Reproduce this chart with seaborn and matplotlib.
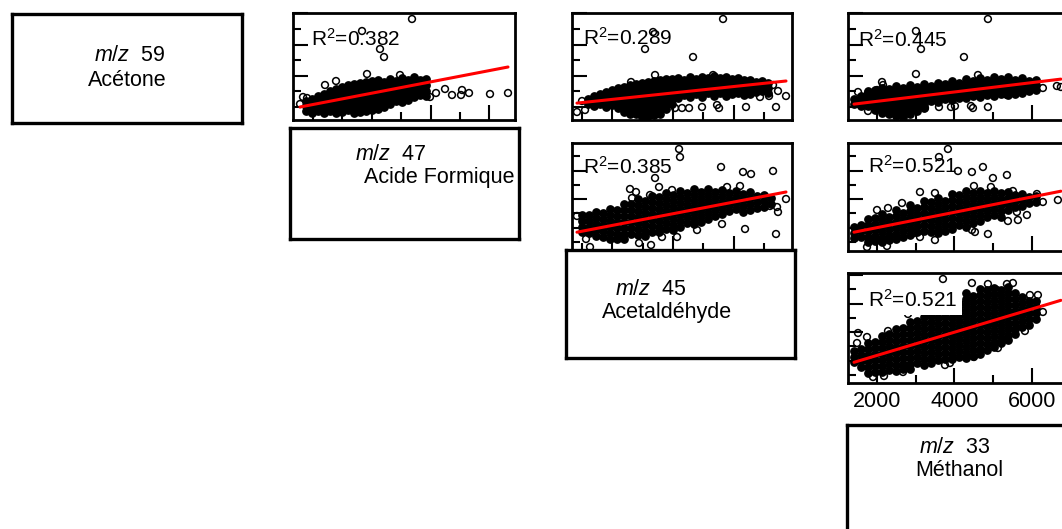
import numpy as np
import pandas as pd
import seaborn as sns
import matplotlib.pyplot as plt
from matplotlib.ticker import MultipleLocator

sns.set_style("white")
plt.rcParams['font.family'] = ['Liberation Sans', 'DejaVu Sans']
plt.rcParams['mathtext.fontset'] = 'custom'
plt.rcParams['mathtext.rm'] = 'Liberation Sans'
plt.rcParams['mathtext.it'] = 'Liberation Sans:italic'
plt.rcParams['text.color'] = 'black'
plt.rcParams['xtick.color'] = 'black'
plt.rcParams['ytick.color'] = 'black'

# diagonal labels
mz_values = ['59', '47', '45', '33']
compounds = ['Acétone', 'Acide Formique', 'Acetaldéhyde', 'Méthanol']

# R² and fitted lines, panels (row, col): (1,2) (1,3) (1,4) (2,3) (2,4) (3,4)
r2_values = [0.382, 0.289, 0.445, 0.385, 0.521, 0.521]
slopes = [0.362, 0.2051, 0.1496, 0.408, 0.2683, 0.4057]
intercepts = [718, 1039, 882, 673, 466, 374]

# acetone (y) vs formic acid (x): dense core by x column, then scattered points
acetone_formic_core = {
    881: [1192, 1032, 872], 983: [1256, 1096, 936, 808],
    1085: [1352, 1192, 1032, 872], 1187: [1416, 1256, 1096, 936, 808],
    1289: [1512, 1352, 1192, 1032, 872], 1391: [1576, 1416, 1256, 1096, 936, 808],
    1493: [1640, 1480, 1320, 1160, 1000, 840], 1595: [1704, 1544, 1384, 1224, 1064, 904],
    1697: [1736, 1576, 1416, 1256, 1096, 936, 808], 1799: [1768, 1608, 1448, 1288, 1128, 968, 840],
    1901: [1800, 1640, 1480, 1320, 1160, 1000, 872], 2003: [1832, 1672, 1512, 1352, 1192, 1032, 904],
    2105: [1864, 1704, 1544, 1384, 1224, 1064, 936], 2207: [1800, 1640, 1480, 1320, 1160, 1000],
    2309: [1896, 1736, 1576, 1416, 1256, 1096], 2411: [1832, 1672, 1512, 1352, 1192],
    2513: [1928, 1768, 1608, 1448, 1288, 1160], 2615: [1864, 1704, 1544, 1384, 1224],
    2717: [1960, 1800, 1640, 1480, 1320], 2819: [1864, 1704, 1544, 1384],
    2921: [1896, 1704, 1512, 1352],
}
acetone_formic_x = [2683, 1833, 2139, 2207, 1918, 1391, 1204, 830, 898, 779, 3244, 3363,
                    3516, 3533, 3652, 4009, 4315, 2989, 2870, 2887, 2479, 3091]
acetone_formic_y = [3816, 3432, 2856, 2600, 2056, 1832, 1704, 1320, 1288, 1096, 1576, 1384,
                    1384, 1544, 1448, 1416, 1448, 1320, 1832, 1480, 2024, 1448]

# acetone (y) vs acetaldehyde (x)
acetone_acetald_core = {
    599: [1256, 1096], 698: [1352, 1192, 1032], 797: [1416, 1256, 1096],
    896: [1480, 1320, 1160, 1000], 995: [1544, 1384, 1224, 1064],
    1094: [1608, 1448, 1288, 1128, 968], 1193: [1640, 1480, 1320, 1160, 1000, 840],
    1292: [1704, 1544, 1384, 1224, 1064, 904, 776], 1391: [1736, 1576, 1416, 1256, 1096, 936, 776],
    1490: [1768, 1608, 1448, 1288, 1128, 968, 808, 680],
    1589: [1800, 1640, 1480, 1320, 1160, 1000, 840, 712],
    1688: [1832, 1672, 1512, 1352, 1192, 1032, 872, 744],
    1787: [1864, 1704, 1544, 1384, 1224, 1064, 904, 776],
    1886: [1896, 1736, 1576, 1416, 1256, 1096, 936], 1985: [1896, 1736, 1576, 1416, 1256, 1096],
    2084: [1928, 1768, 1608, 1448, 1288], 2183: [1864, 1704, 1544, 1384],
    2282: [1960, 1800, 1640, 1480, 1320], 2381: [1896, 1736, 1576, 1416],
    2480: [1960, 1800, 1640, 1480, 1320], 2579: [1928, 1768, 1608, 1448],
    2678: [1992, 1832, 1672, 1512, 1352], 2777: [1928, 1768, 1608, 1448],
    2876: [1960, 1800, 1640, 1480, 1352], 2975: [1896, 1736, 1576, 1416],
    3074: [1928, 1768, 1608, 1448], 3173: [1864, 1704, 1544, 1384],
    3272: [1864, 1704, 1544, 1416], 3371: [1800, 1640, 1480],
    3470: [1832, 1672, 1512], 3569: [1768, 1608, 1448],
}
acetone_acetald_x = [2827, 1672, 1540, 2332, 1705, 1309, 500, 417, 550, 3652, 3734, 3866,
                     3586, 3437, 3206, 3701, 2480, 2728, 2761, 2266, 2035, 2150, 2662]
acetone_acetald_y = [3816, 3400, 2856, 2600, 2024, 1800, 1192, 840, 904, 1704, 1512, 1352,
                     1352, 1320, 1000, 1000, 1000, 1064, 968, 968, 968, 968, 2024]

# acetone (y) vs methanol (x)
acetone_methanol_core = {
    1405: [1256, 1096], 1586: [1352, 1192, 1032], 1767: [1512, 1352, 1192, 1032],
    1948: [1544, 1384, 1224, 1064, 904], 2129: [1608, 1448, 1288, 1128, 968, 808],
    2310: [1576, 1416, 1256, 1096, 936, 776], 2491: [1672, 1512, 1352, 1192, 1032, 872, 712],
    2672: [1608, 1448, 1288, 1128, 968, 808, 680], 2853: [1704, 1544, 1384, 1224, 1064, 904, 776],
    3034: [1640, 1480, 1320, 1160, 1000, 872], 3215: [1736, 1576, 1416, 1256, 1096, 968],
    3395: [1672, 1512, 1352, 1192], 3576: [1768, 1608, 1448, 1288, 1160],
    3757: [1736, 1576, 1416, 1256], 3938: [1832, 1672, 1512, 1352, 1224],
    4119: [1768, 1608, 1448, 1288], 4300: [1896, 1736, 1576, 1416, 1288],
    4481: [1832, 1672, 1512, 1352], 4662: [1928, 1768, 1608, 1448, 1320],
    4843: [1864, 1704, 1544, 1384], 5023: [1960, 1800, 1640, 1480, 1352],
    5204: [1896, 1736, 1576, 1416], 5385: [1960, 1800, 1640, 1480, 1384],
    5566: [1864, 1704, 1544, 1416], 5747: [1928, 1768, 1608, 1448],
    5928: [1832, 1672, 1512], 6109: [1864, 1704, 1544],
}
acetone_methanol_x = [4868, 3007, 3137, 4248, 3007, 2129, 2155, 1509, 1767, 2000, 4610, 6289,
                      6651, 6082, 5359, 4868, 4429, 4481, 4015, 3912, 3602, 3240, 3034, 1767, 6754]
acetone_methanol_y = [3816, 3432, 2856, 2600, 2056, 1800, 1704, 1480, 1448, 1544, 2024, 1608,
                      1672, 1640, 1384, 1000, 1032, 968, 1032, 1000, 1000, 968, 936, 872, 1640]

# formic acid (y) vs acetaldehyde (x)
formic_acetald_core = {
    500: [1445, 1235, 1025, 850], 616: [1445, 1235, 1025, 815],
    731: [1550, 1340, 1130, 920, 710], 847: [1515, 1305, 1095, 885, 675],
    962: [1655, 1445, 1235, 1025, 815, 605], 1078: [1620, 1410, 1200, 990, 780, 605],
    1193: [1830, 1620, 1410, 1200, 990, 780, 605], 1309: [1830, 1620, 1410, 1200, 990, 780],
    1424: [2005, 1795, 1585, 1375, 1165, 955, 745], 1540: [1935, 1725, 1515, 1305, 1095, 885, 710],
    1655: [2110, 1900, 1690, 1480, 1270, 1060, 850], 1771: [2075, 1865, 1655, 1445, 1235, 1025, 850],
    1886: [2215, 2005, 1795, 1585, 1375, 1165, 955], 2002: [2145, 1935, 1725, 1515, 1305, 1095, 920],
    2117: [2285, 2075, 1865, 1655, 1445, 1235, 1025], 2233: [2215, 2005, 1795, 1585, 1375, 1165],
    2348: [2355, 2145, 1935, 1725, 1515, 1305, 1130], 2464: [2250, 2040, 1830, 1620, 1410, 1200],
    2579: [2355, 2145, 1935, 1725, 1515, 1305], 2695: [2250, 2040, 1830, 1620, 1410],
    2810: [2320, 2110, 1900, 1690, 1480], 2926: [2215, 2005, 1795, 1585],
    3041: [2285, 2075, 1865, 1655], 3157: [2180, 1970, 1760, 1550],
    3272: [2250, 2040, 1830, 1620], 3388: [2110, 1900, 1690],
    3503: [2145, 1935, 1725], 3619: [2040, 1830],
}
formic_acetald_x = [2101, 2117, 2794, 3157, 3289, 3652, 1705, 1292, 1391, 1325, 1622, 1771,
                    1985, 3107, 2893, 3866, 3718, 3734, 3602, 3437, 3190, 3701, 2810, 417,
                    517, 566, 632, 1441, 1639, 1820, 2068, 2398]
formic_acetald_y = [3755, 3475, 3125, 2950, 2880, 2985, 2740, 2355, 2250, 2040, 2145, 2425,
                    2320, 2460, 2425, 2005, 1725, 1550, 1760, 1795, 955, 780, 1130, 1410,
                    1270, 605, 325, 465, 395, 675, 675, 920]

# formic acid (y) vs methanol (x)
formic_methanol_core = {
    1405: [1025, 815, 640], 1586: [1095, 885, 675], 1767: [1305, 1095, 885, 675, 500],
    1948: [1340, 1130, 920, 710, 535], 2129: [1480, 1270, 1060, 850, 640, 500],
    2310: [1375, 1165, 955, 745, 570], 2491: [1620, 1410, 1200, 990, 780, 605],
    2672: [1515, 1305, 1095, 885, 675], 2853: [1795, 1585, 1375, 1165, 955, 745],
    3034: [1690, 1480, 1270, 1060, 850], 3215: [1935, 1725, 1515, 1305, 1095, 885],
    3395: [1900, 1690, 1480, 1270, 1060, 850], 3576: [2040, 1830, 1620, 1410, 1200, 990, 815],
    3757: [1935, 1725, 1515, 1305, 1095, 885], 3938: [2180, 1970, 1760, 1550, 1340, 1130, 955],
    4119: [2145, 1935, 1725, 1515, 1305, 1095], 4300: [2285, 2075, 1865, 1655, 1445, 1235, 1025],
    4481: [2215, 2005, 1795, 1585, 1375, 1165], 4662: [2285, 2075, 1865, 1655, 1445, 1235],
    4843: [2215, 2005, 1795, 1585, 1375], 5023: [2285, 2075, 1865, 1655, 1445],
    5204: [2215, 2005, 1795, 1585, 1375], 5385: [2250, 2040, 1830, 1620],
    5566: [2145, 1935, 1725], 5747: [2180, 1970, 1760], 5928: [2075, 1865], 6109: [2110, 1900],
}
formic_methanol_x = [3834, 3602, 4093, 4454, 4739, 5359, 4997, 3498, 3111, 2646, 2000, 2284,
                     4506, 4945, 5514, 6134, 6289, 6677, 1741, 2258, 4454, 4532, 4868, 5385,
                     5643, 5876, 5617, 3111, 3498, 2956]
formic_methanol_y = [3755, 3475, 2985, 2950, 3125, 2845, 2740, 2215, 2250, 1865, 1620, 1690,
                     2460, 2425, 2285, 2180, 1900, 1970, 325, 360, 920, 850, 780, 1235,
                     1270, 1445, 1550, 675, 570, 815]

# acetaldehyde (y) vs methanol (x)
acetald_methanol_core = {
    1405: [1340, 1130, 955], 1586: [1410, 1200, 990, 780],
    1767: [1620, 1410, 1200, 990, 780, 570], 1948: [1655, 1445, 1235, 1025, 815, 605],
    2129: [1865, 1655, 1445, 1235, 1025, 815, 605], 2310: [1935, 1725, 1515, 1305, 1095, 885, 675],
    2491: [2110, 1900, 1690, 1480, 1270, 1060, 850, 640],
    2672: [2145, 1935, 1725, 1515, 1305, 1095, 885, 710],
    2853: [2355, 2145, 1935, 1725, 1515, 1305, 1095, 885, 710],
    3034: [2390, 2180, 1970, 1760, 1550, 1340, 1130, 920],
    3215: [2530, 2320, 2110, 1900, 1690, 1480, 1270, 1060, 850],
    3395: [2565, 2355, 2145, 1935, 1725, 1515, 1305, 1095, 920],
    3576: [2705, 2495, 2285, 2075, 1865, 1655, 1445, 1235, 1025],
    3757: [2740, 2530, 2320, 2110, 1900, 1690, 1480, 1270, 1060],
    3938: [2915, 2705, 2495, 2285, 2075, 1865, 1655, 1445, 1235, 1060],
    4119: [3020, 2810, 2600, 2390, 2180, 1970, 1760, 1550, 1340, 1130],
    4300: [3370, 3160, 2950, 2740, 2530, 2320, 2110, 1900, 1690, 1480, 1270, 1095],
    4481: [3265, 3055, 2845, 2635, 2425, 2215, 2005, 1795, 1585, 1375, 1165],
    4662: [3510, 3300, 3090, 2880, 2670, 2460, 2250, 2040, 1830, 1620, 1410, 1235],
    4843: [3475, 3265, 3055, 2845, 2635, 2425, 2215, 2005, 1795, 1585, 1375],
    5023: [3545, 3335, 3125, 2915, 2705, 2495, 2285, 2075, 1865, 1655, 1480],
    5204: [3475, 3265, 3055, 2845, 2635, 2425, 2215, 2005, 1795, 1620],
    5385: [3580, 3370, 3160, 2950, 2740, 2530, 2320, 2110, 1900, 1725],
    5566: [3370, 3160, 2950, 2740, 2530, 2320, 2110, 1935],
    5747: [3230, 3020, 2810, 2600, 2390, 2180], 5928: [3090, 2880, 2670, 2460, 2250],
    6109: [3090, 2880, 2670, 2460],
}
acetald_methanol_x = [3705, 4454, 4868, 5359, 5514, 4971, 5100, 5488, 5953, 6160, 6108, 6289,
                      5824, 2801, 1509, 1483, 1741, 2284, 2672, 3757, 3886, 4506, 5126, 5566,
                      1896, 2181]
acetald_methanol_y = [3860, 3720, 3685, 3685, 3720, 3475, 3475, 3300, 3300, 3300, 3020, 2705,
                      2040, 2635, 1970, 1620, 1830, 2040, 605, 850, 920, 1130, 1445, 2180,
                      430, 465]


def make_frame(core, xs, ys):
    x = [k for k, col in core.items() for _ in col]
    y = [v for col in core.values() for v in col]
    kind = ['core'] * len(x) + ['spread'] * len(xs)
    return pd.DataFrame({'x': x + xs, 'y': y + ys, 'kind': kind})


frames = [
    make_frame(acetone_formic_core, acetone_formic_x, acetone_formic_y),
    make_frame(acetone_acetald_core, acetone_acetald_x, acetone_acetald_y),
    make_frame(acetone_methanol_core, acetone_methanol_x, acetone_methanol_y),
    make_frame(formic_acetald_core, formic_acetald_x, formic_acetald_y),
    make_frame(formic_methanol_core, formic_methanol_x, formic_methanol_y),
    make_frame(acetald_methanol_core, acetald_methanol_x, acetald_methanol_y),
]
panels = [(1, 2), (1, 3), (1, 4), (2, 3), (2, 4), (3, 4)]

# layout in pixels of the 1062x529 canvas
W, H = 1062, 529
col_px = {2: (293, 515), 3: (572, 792), 4: (848, 1070)}
row_px = {1: (13, 120), 2: (143, 251), 3: (273, 383)}
col_lim = {2: (660, 4434), 3: (335, 3965), 4: (1250, 6990)}
row_lim = {1: (584, 4008), 2: (185, 3965), 3: (220, 4070)}
box_px = [(12, 14, 242, 123), (290, 128, 519, 239), (566, 250, 795, 358), (847, 425, 1076, 534)]
box_text_pos = [((0.51, 0.62), (0.50, 0.39)), ((0.44, 0.76), (0.65, 0.55)),
                ((0.37, 0.63), (0.44, 0.42)), ((0.47, 0.79), (0.49, 0.58))]
r2_pos = [(0.081, 0.692), (0.05, 0.70), (0.045, 0.68), (0.05, 0.713), (0.09, 0.722), (0.09, 0.69)]


def rect(x0, y0, x1, y1):
    return [x0 / W, 1 - y1 / H, (x1 - x0) / W, (y1 - y0) / H]


fig = plt.figure(figsize=(W / 100, H / 100), dpi=100)

# x range of the fitted line = data range shared by each column
col_range = {}
for (r, c), df in zip(panels, frames):
    lo, hi = col_range.get(c, (np.inf, -np.inf))
    col_range[c] = (min(lo, df['x'].min()), max(hi, df['x'].max()))

for i, ((r, c), df) in enumerate(zip(panels, frames)):
    ax = fig.add_axes(rect(col_px[c][0], row_px[r][0], col_px[c][1], row_px[r][1]))
    # the overlapping mass of points reads as solid black in the original
    sns.scatterplot(data=df[df['kind'] == 'core'], x='x', y='y', ax=ax, marker='o', s=27,
                    facecolor='black', edgecolor='black', linewidth=1.1, legend=False, zorder=2)
    sns.scatterplot(data=df[df['kind'] == 'spread'], x='x', y='y', ax=ax, marker='o', s=24,
                    facecolor='none', edgecolor='black', linewidth=1.1, legend=False, zorder=2)
    xl = np.array(col_range[c])
    sns.lineplot(x=xl, y=intercepts[i] + slopes[i] * xl, ax=ax, color='red',
                 linewidth=2.2, zorder=3)
    ax.set_xlim(col_lim[c])
    ax.set_ylim(row_lim[r])
    ax.set_xlabel('')
    ax.set_ylabel('')
    ax.xaxis.set_major_locator(MultipleLocator(2000 if c == 4 else 1000))
    ax.xaxis.set_minor_locator(MultipleLocator(1000 if c == 4 else 500))
    ax.yaxis.set_major_locator(MultipleLocator(1000))
    ax.yaxis.set_minor_locator(MultipleLocator(500))
    ax.tick_params(which='both', direction='in', left=True, bottom=True, top=False,
                   right=False, labelleft=False, labelbottom=(r == 3), width=1.5,
                   labelsize=15.5, pad=6)
    ax.tick_params(which='major', length=11)
    ax.tick_params(which='minor', length=5.5)
    for sp in ax.spines.values():
        sp.set_linewidth(2)
        sp.set_color('black')
    label = 'R$^{2}$=' + f'{r2_values[i]:.3f}'
    if r == 3:
        ax.text(*r2_pos[i], label, transform=ax.transAxes, fontsize=15, va='baseline',
                zorder=5, bbox=dict(facecolor='white', edgecolor='none', pad=3))
    else:
        ax.text(*r2_pos[i], label, transform=ax.transAxes, fontsize=15, va='baseline',
                zorder=1)

for k in range(4):
    bax = fig.add_axes(rect(*box_px[k]))
    bax.set_xticks([])
    bax.set_yticks([])
    for sp in bax.spines.values():
        sp.set_linewidth(2.4)
        sp.set_color('black')
    (p1, p2) = box_text_pos[k]
    bax.text(*p1, '$m/z$  ' + mz_values[k], transform=bax.transAxes, fontsize=15.5,
             ha='center', va='center')
    bax.text(*p2, compounds[k], transform=bax.transAxes, fontsize=15.5,
             ha='center', va='center')

fig.savefig('out.png', dpi=100)
